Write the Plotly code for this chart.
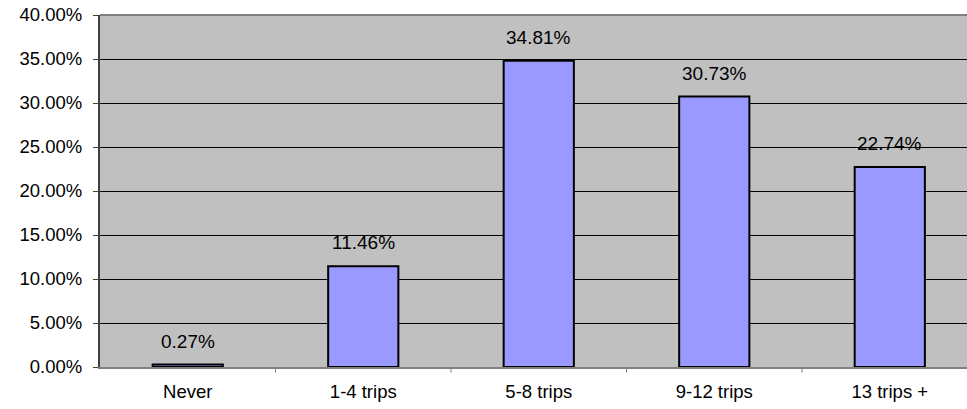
import plotly.graph_objects as go

categories = ["Never", "1-4 trips", "5-8 trips", "9-12 trips", "13 trips +"]
values = [0.27, 11.46, 34.81, 30.73, 22.74]
tick_vals = [0, 5, 10, 15, 20, 25, 30, 35, 40]
tick_text = ["0.00%", "5.00%", "10.00%", "15.00%", "20.00%", "25.00%", "30.00%", "35.00%", "40.00%"]
labels = [f"{v:.2f}%" for v in values]

FONT = "Liberation Sans, Arial, sans-serif"

fig = go.Figure()
fig.add_trace(go.Bar(
    x=list(range(len(categories))), y=values,
    width=0.4,
    marker=dict(color="#9999FF", line=dict(color="black", width=2)),
    hoverinfo="skip",
))
for i, (v, t) in enumerate(zip(values, labels)):
    fig.add_annotation(x=i, y=v, text=t, showarrow=False, yanchor="bottom",
                       yshift=11, font=dict(family=FONT, size=19, color="black"))

fig.update_layout(
    width=967, height=409,
    margin=dict(l=100, r=0, t=15, b=42, autoexpand=False),
    paper_bgcolor="white", plot_bgcolor="#C0C0C0",
    showlegend=False,
    font=dict(family=FONT, size=18, color="black"),
)
fig.update_xaxes(
    range=[-0.5, 4.44],
    tickvals=list(range(len(categories))), ticktext=categories,
    ticks="", showgrid=False, zeroline=False, automargin=False,
    showline=True, linecolor="#808080", linewidth=2,
    tickfont=dict(size=18.5), ticklabelstandoff=7,
)
# tick marks between categories
for b in [0.5, 1.5, 2.5, 3.5]:
    fig.add_shape(type="line", xref="x", yref="paper", x0=b, x1=b, y0=0, y1=-0.016,
                  line=dict(color="#808080", width=1))
fig.update_yaxes(
    range=[0, 40], tickvals=tick_vals, ticktext=tick_text,
    ticks="outside", ticklen=5, tickcolor="#404040", automargin=False,
    showgrid=True, gridcolor="black", gridwidth=1,
    zeroline=False, showline=True, linecolor="#404040", linewidth=2,
    mirror=False, tickfont=dict(size=18.5), ticklabelstandoff=7,
)
# top border
fig.add_shape(type="line", xref="paper", yref="paper", x0=0, x1=1, y0=1, y1=1,
              line=dict(color="#808080", width=2))

fig.write_html("out.html", config={"displayModeBar": False},
               post_script="document.body.style.margin='0';")
